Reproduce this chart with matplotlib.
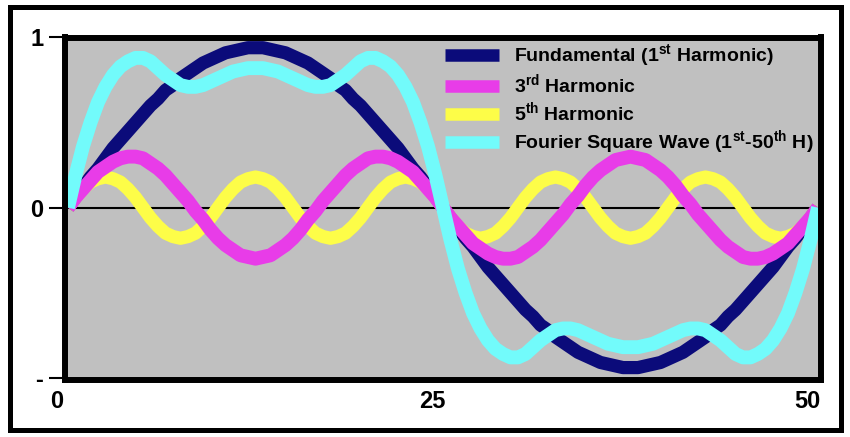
import matplotlib
matplotlib.use('Agg')
import matplotlib.pyplot as plt
import matplotlib.patches as patches
from matplotlib.transforms import ScaledTranslation
import numpy as np

plt.rcParams['font.family'] = 'Liberation Sans'
plt.rcParams['mathtext.fontset'] = 'custom'
plt.rcParams['mathtext.rm'] = 'Liberation Sans'
plt.rcParams['mathtext.bf'] = 'Liberation Sans:bold'

# ========== Data (x step 0.5) ==========
x = np.linspace(0, 50, 101)

fundamental = [
    0, .06, .12, .18, .23, .29, .35, .40, .45, .50, .55, .60, .64, .69, .72, .76, .79, .82, .85, .87,
    .89, .91, .92, .93, .94, .94, .94, .93, .92, .91, .89, .87, .85, .82, .79, .76, .72, .69, .64, .60,
    .55, .50, .45, .40, .35, .29, .23, .18, .12, .06, 0,
    -.06, -.12, -.18, -.23, -.29, -.35, -.40, -.45, -.50, -.55, -.60, -.64, -.69, -.72, -.76, -.79, -.82, -.85, -.87,
    -.89, -.91, -.92, -.93, -.94, -.94, -.94, -.93, -.92, -.91, -.89, -.87, -.85, -.82, -.79, -.76, -.72, -.69, -.64, -.60,
    -.55, -.50, -.45, -.40, -.35, -.29, -.23, -.18, -.12, -.06, 0,
]

third = [
    0, .06, .11, .16, .21, .24, .27, .29, .30, .30, .29, .26, .23, .19, .14, .09, .04, -.02, -.07, -.13,
    -.18, -.22, -.25, -.28, -.29, -.30, -.29, -.28, -.25, -.22, -.18, -.13, -.07, -.02, .04, .09, .14, .19, .23, .26,
    .29, .30, .30, .29, .27, .24, .21, .16, .11, .06, 0,
    -.06, -.11, -.16, -.21, -.24, -.27, -.29, -.30, -.30, -.29, -.26, -.23, -.19, -.14, -.09, -.04, .02, .07, .13,
    .18, .22, .25, .28, .29, .30, .29, .28, .25, .22, .18, .13, .07, .02, -.04, -.09, -.14, -.19, -.23, -.26,
    -.29, -.30, -.30, -.29, -.27, -.24, -.21, -.16, -.11, -.06, 0,
]

fifth = [
    0, .06, .11, .15, .17, .18, .17, .15, .11, .06, 0, -.06, -.11, -.15, -.17, -.18, -.17, -.15, -.11, -.06,
    0, .06, .11, .15, .17, .18, .17, .15, .11, .06, 0, -.06, -.11, -.15, -.17, -.18, -.17, -.15, -.11, -.06,
    0, .06, .11, .15, .17, .18, .17, .15, .11, .06, 0, -.06, -.11, -.15, -.17, -.18, -.17, -.15, -.11, -.06,
    0, .06, .11, .15, .17, .18, .17, .15, .11, .06, 0, -.06, -.11, -.15, -.17, -.18, -.17, -.15, -.11, -.06,
    0, .06, .11, .15, .17, .18, .17, .15, .11, .06, 0, -.06, -.11, -.15, -.17, -.18, -.17, -.15, -.11, -.06,
    0,
]

square = [
    0, .19, .36, .50, .62, .71, .78, .83, .86, .88, .88, .86, .82, .78, .75, .72, .71, .71, .72, .74,
    .76, .78, .80, .81, .82, .82, .82, .81, .80, .78, .76, .74, .72, .71, .71, .72, .75, .78, .82, .86,
    .88, .88, .86, .83, .78, .71, .62, .50, .36, .19, 0,
    -.19, -.36, -.50, -.62, -.71, -.78, -.83, -.86, -.88, -.88, -.86, -.82, -.78, -.75, -.72, -.71, -.71, -.72, -.74,
    -.76, -.78, -.80, -.81, -.82, -.82, -.82, -.81, -.80, -.78, -.76, -.74, -.72, -.71, -.71, -.72, -.75, -.78, -.82, -.86,
    -.88, -.88, -.86, -.83, -.78, -.71, -.62, -.50, -.36, -.19, 0,
]

labels = [
    r'Fundamental (1$^{\mathbf{st}}$ Harmonic)',
    r'3$^{\mathbf{rd}}$ Harmonic',
    r'5$^{\mathbf{th}}$ Harmonic',
    r'Fourier Square Wave (1$^{\mathbf{st}}$-50$^{\mathbf{th}}$ H)',
]
x_ticks = [0, 25, 50]
x_ticklabels = ['0', '25', '50']
y_ticks = [-1, 0, 1]
y_ticklabels = ['-', '0', '1']

# ========== Figure ==========
fig = plt.figure(figsize=(8.5, 4.37), dpi=100)
ax = fig.add_axes([65 / 850, 1 - 379.5 / 437, (821 - 65) / 850, (379.5 - 37.5) / 437])
ax.set_facecolor('#c0c0c0')

ax.axhline(0, color='black', linewidth=1.5, zorder=1)

line_kw = dict(solid_capstyle='butt', solid_joinstyle='round')
ax.plot(x, fundamental, color='#0b0b7a', linewidth=9.5, zorder=2, label=labels[0], **line_kw)
ax.plot(x, third, color='#e83ce8', linewidth=10, zorder=4, label=labels[1], **line_kw)
ax.plot(x, fifth, color='#fdfd48', linewidth=9.5, zorder=3, label=labels[2], **line_kw)
ax.plot(x, square, color='#72fbfb', linewidth=10, zorder=5, label=labels[3], **line_kw)

ax.set_xlim(-0.2, 50.2)
ax.set_ylim(-1.01, 1.0)

for sp in ax.spines.values():
    sp.set_linewidth(4.3)
    sp.set_color('black')
    sp.set_zorder(10)
    sp.set_capstyle('projecting')

ax.set_xticks(x_ticks)
ax.set_xticklabels(x_ticklabels)
ax.set_yticks(y_ticks)
ax.set_yticklabels(y_ticklabels)
ax.tick_params(axis='x', length=0, pad=7.5, labelsize=17)
ax.tick_params(axis='y', length=11.5, width=1.5, pad=4, labelsize=17, direction='out')
for lab in ax.get_xticklabels() + ax.get_yticklabels():
    lab.set_fontweight('bold')
for lab in ax.get_xticklabels():
    lab.set_transform(lab.get_transform() + ScaledTranslation(-8 / 72, 0, fig.dpi_scale_trans))

leg = ax.legend(loc='upper left', bbox_to_anchor=(445 / 850, 1 - 42 / 437),
                bbox_transform=fig.transFigure, frameon=False, borderpad=0, borderaxespad=0,
                handlelength=2.8, handletextpad=0.75, labelspacing=0.18,
                prop={'weight': 'bold', 'size': 14})
for line in leg.get_lines():
    line.set_linewidth(9)

# outer frame round the whole picture
frame = patches.Rectangle((9.5 / 850, 1 - 429.5 / 437), (841 - 9.5) / 850, (429.5 - 6.5) / 437,
                          transform=fig.transFigure, fill=False, edgecolor='black', linewidth=3.6)
fig.add_artist(frame)

plt.savefig('out.png', dpi=100)
plt.close()
